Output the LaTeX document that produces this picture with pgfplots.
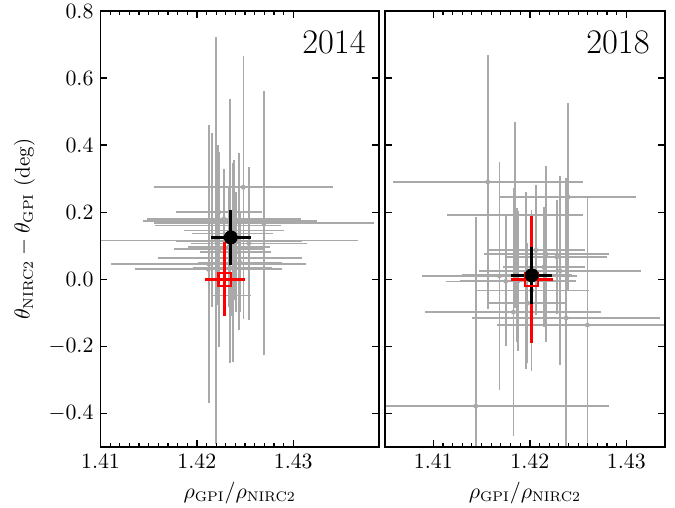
\documentclass[border=0pt]{standalone}
\usepackage{pgfplots}
\pgfplotsset{compat=1.18}
\definecolor{eg}{HTML}{A9A9A9}
\pgfplotstableread{
x y ex ey
1.42482 0.2746 0.00927 0.3925
1.42228 0.2000 0.00446 0.179
1.42342 0.1730 0.00902 0.364
1.42694 0.1670 0.0114 0.394
1.42155 0.1760 0.0062 0.26
1.42197 0.1160 0.0147 0.606
1.42124 0.0450 0.0101 0.415
1.42342 0.0627 0.00746 0.313
1.42435 0.1130 0.00653 0.263
1.42539 0.1070 0.0060 0.227
1.42228 0.0896 0.00466 0.29
1.42119 0.0299 0.0076 0.179
1.42446 0.0507 0.00435 0.149
1.42330 0.0955 0.00425 0.179
1.42404 0.0806 0.0037 0.179
1.42370 0.1370 0.00425 0.209
1.42218 0.1610 0.00653 0.239
1.42383 0.1460 0.0052 0.209
1.42363 -0.0480 0.0020 0.06
1.42373 0.0330 0.0041 0.28
1.42280 0.1800 0.0080 0.150
}\tabA
\pgfplotstableread{
x y ex ey
1.41564 0.2904 0.00985 0.378
1.42397 0.2457 0.00705 0.280
1.41848 0.1920 0.00705 0.277
1.41685 0.0099 0.00804 0.339
1.41830 -0.0976 0.00911 0.369
1.42377 -0.1155 0.00975 0.417
1.42597 -0.1364 0.00941 0.378
1.41440 -0.3780 0.01377 0.563
1.42063 0.0866 0.00508 0.194
1.42169 0.0746 0.00648 0.263
1.42314 0.0254 0.0084 0.282
1.41879 -0.0050 0.0060 0.209
1.41977 -0.0707 0.0040 0.18
1.41751 -0.0060 0.0062 0.194
1.41959 -0.0030 0.0047 0.263
1.42145 0.0360 0.0041 0.173
1.42280 0.0666 0.0052 0.169
1.41865 0.0120 0.0057 0.20
1.42019 -0.0330 0.0059 0.24
1.42148 0.0367 0.00425 0.18
}\tabB
\begin{document}
\begin{tikzpicture}
\useasboundingbox (-50.25bp,-30.5bp) rectangle (287.25bp,223.5bp);
\pgfplotsset{
 myax/.style={
  scale only axis, height=218bp, ymin=-0.5, ymax=0.8,
  ytick={-0.4,-0.2,0,0.2,0.4,0.6,0.8},
  xtick={1.41,1.42,1.43}, minor x tick num=9,
  tick align=inside, tick pos=both,
  major tick length=3.5bp, minor tick length=1.8bp,
  axis line style={line width=0.75bp},
  major tick style={line width=0.7bp, black},
  minor tick style={line width=0.6bp, black},
  tick label style={font=\fontsize{10.5}{12}\selectfont},
  label style={font=\fontsize{10.5}{12}\selectfont},
  xticklabel style={/pgf/number format/.cd, fixed, fixed zerofill, precision=2},
  yticklabel style={/pgf/number format/.cd, fixed, fixed zerofill, precision=1},
  clip=true,
 },
 grey/.style={only marks, mark=*, mark size=1bp, draw=eg, fill=eg, mark options={draw=eg, fill=eg, solid},
   error bars/.cd, x dir=both, y dir=both, x explicit, y explicit, error mark=none,
   error bar style={line width=0.8bp, color=eg, solid}},
 redp/.style={only marks, mark=square, mark size=3.2bp, mark options={line width=1.1bp, draw=red, fill=none, solid}, draw=red,
   error bars/.cd, x dir=both, y dir=both, x explicit, y explicit, error mark=none,
   error bar style={line width=1.35bp, color=red, solid}},
 blkp/.style={only marks, mark=*, mark size=3.3bp, mark options={draw=black, fill=black, solid}, draw=black,
   error bars/.cd, x dir=both, y dir=both, x explicit, y explicit, error mark=none,
   error bar style={line width=1.35bp, color=black, solid}},
}
% --- 2014: grey points underneath ---
\begin{axis}[myax, hide axis, at={(0,0)}, anchor=south west, width=139.25bp, xmin=1.41, xmax=1.4389]
\addplot[grey] table[x=x,y=y,x error=ex,y error=ey] {\tabA};
\end{axis}
\begin{axis}[myax, at={(0,0)}, anchor=south west, width=139.25bp, xmin=1.41, xmax=1.4389,
  xlabel={$\rho_{\mathrm{GPI}}/\rho_{\mathrm{NIRC2}}$},
  ylabel={$\theta_{\mathrm{NIRC2}}-\theta_{\mathrm{GPI}}$ (deg)}]
\addplot[redp] coordinates {(1.4229,0.0) +- (0.0021,0.11)};
\addplot[blkp] coordinates {(1.42352,0.125) +- (0.0021,0.083)};
\node[anchor=north east, inner sep=0pt, font=\fontsize{17.3}{20}\selectfont] at (rel axis cs:1,1) [xshift=-6.5bp, yshift=-9.5bp] {2014};
\end{axis}
% --- 2018 ---
\begin{axis}[myax, hide axis, at={(142.25bp,0)}, anchor=south west, width=140bp, xmin=1.405, xmax=1.434]
\addplot[grey] table[x=x,y=y,x error=ex,y error=ey] {\tabB};
\end{axis}
\begin{axis}[myax, at={(142.25bp,0)}, anchor=south west, width=140bp, xmin=1.405, xmax=1.434,
  xlabel={$\rho_{\mathrm{GPI}}/\rho_{\mathrm{NIRC2}}$}, yticklabels={}]
\addplot[redp] coordinates {(1.4202,0.0) +- (0.0022,0.19)};
\addplot[blkp] coordinates {(1.4202,0.012) +- (0.0021,0.085)};
\node[anchor=north east, inner sep=0pt, font=\fontsize{17.3}{20}\selectfont] at (rel axis cs:1,1) [xshift=-7.5bp, yshift=-9.5bp] {2018};
\end{axis}
\end{tikzpicture}
\end{document}
